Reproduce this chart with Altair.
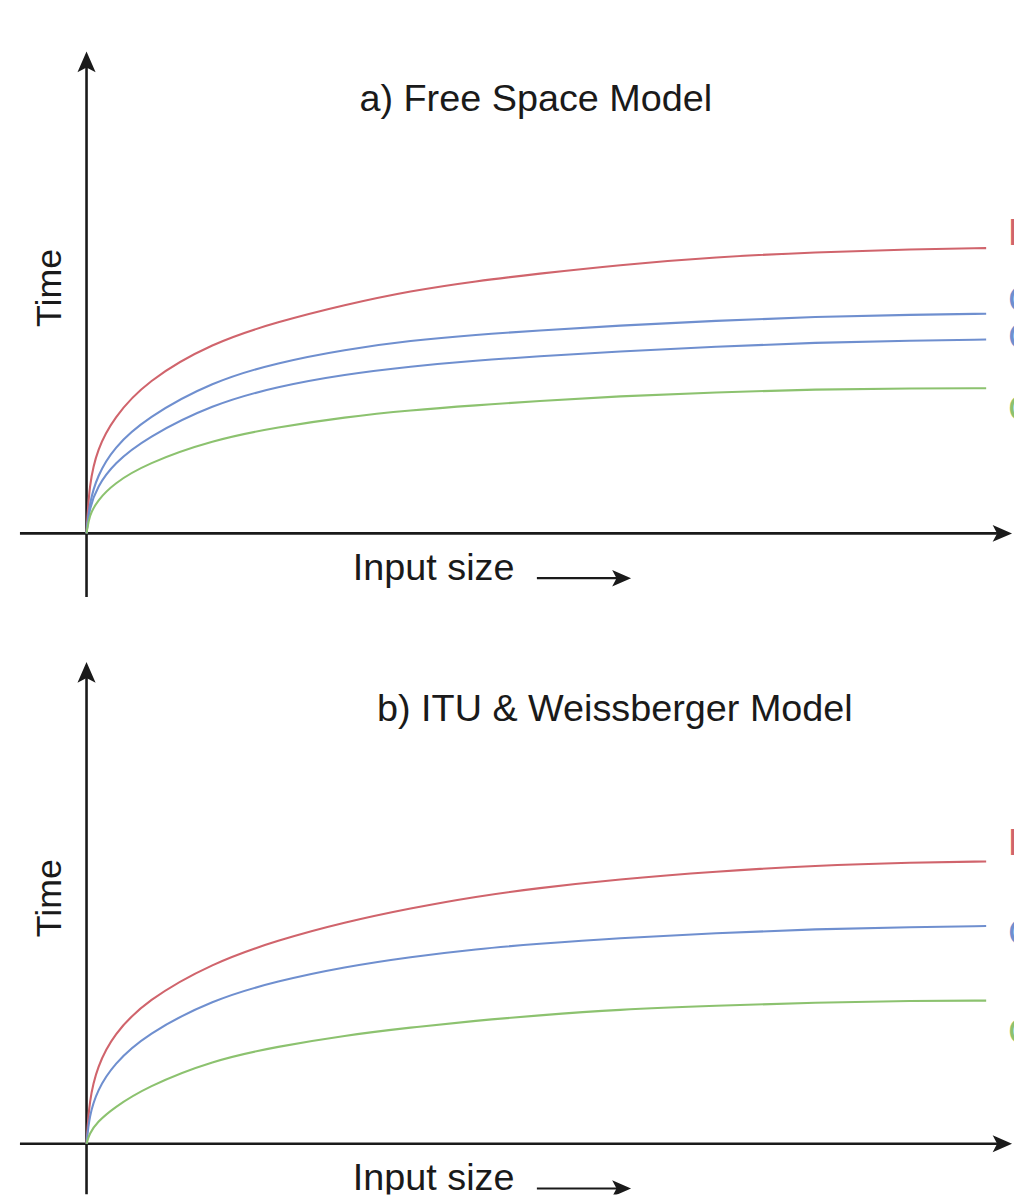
import altair as alt
import pandas as pd

# ---------------- data ----------------
x_pts = [0, 0.003, 0.012, 0.03, 0.066, 0.14, 0.213, 0.287, 0.36, 0.434, 0.5, 0.59, 0.7, 0.81, 0.92, 1.0]

# a) Free Space Model
a_red   = [0, 50, 85, 116, 153, 192, 213, 230, 244, 254, 261, 270, 278, 283, 286, 287]
a_blue1 = [0, 30, 58, 86, 116, 153, 172, 185, 194, 200, 204, 209, 214, 218, 220, 221]
a_blue2 = [0, 25, 47, 70, 96, 130, 148, 160, 168, 174, 178, 183, 188, 192, 194, 195]
a_green = [0, 18, 33, 50, 70, 94, 107, 117, 124, 129, 133, 138, 142, 145, 146, 146]

# b) ITU & Weissberger Model
b_red   = [0, 44, 78, 110, 144, 182, 205, 223, 237, 249, 257, 266, 274, 280, 283, 284]
b_blue  = [0, 28, 54, 80, 110, 145, 164, 178, 188, 196, 201, 207, 212, 216, 218, 219]
b_green = [0, 10, 22, 36, 57, 84, 98, 109, 117, 124, 129, 135, 139, 142, 144, 144]

a_series = ["Edge", "Cloud", "Cloudlet", "Gateway"]
a_values = [a_red, a_blue1, a_blue2, a_green]
a_colors = ["#d0646c", "#6f8fcf", "#6f8fcf", "#8cc26f"]
a_label_y = [290, 223, 186, 113]

b_series = ["Edge", "Cloud", "Gateway"]
b_values = [b_red, b_blue, b_green]
b_colors = ["#d0646c", "#6f8fcf", "#8cc26f"]
b_label_y = [290, 200, 100]

titles = ["a) Free Space Model", "b) ITU & Weissberger Model"]
title_x = [0.4994, 0.5873]
title_y = 425
ylabel = "Time"
xlabel = "Input size"

FONT = "Liberation Sans"
FS = 38
INK = "#1a1a1a"
W = 1012
X_DOM = [-0.08729, 1.03094]

ARROW_UP = "M0,-1L0.85,0.95L0,0.5L-0.85,0.95Z"
ARROW_RIGHT = "M1,0L-0.95,-0.85L-0.5,0L-0.95,0.85Z"


def X(field="x"):
    return alt.X(f"{field}:Q", scale=alt.Scale(domain=X_DOM, nice=False, zero=False), axis=None)


def Y(dom, field="y"):
    return alt.Y(f"{field}:Q", scale=alt.Scale(domain=dom, nice=False, zero=False), axis=None)


def panel(idx, names, values, colors, label_y, height, ymin, ymax, yaxis_bottom):
    dom = [ymin, ymax]
    rows = []
    for n, vals in zip(names, values):
        for i, (xv, yv) in enumerate(zip(x_pts, vals)):
            rows.append({"x": xv, "y": yv, "s": n, "o": i})
    df = pd.DataFrame(rows)
    uniq = list(dict.fromkeys(names))
    cmap = {n: c for n, c in zip(names, colors)}
    cscale = alt.Scale(domain=uniq, range=[cmap[n] for n in uniq])

    lines = alt.Chart(df).mark_line(strokeWidth=2.1, interpolate="basis").encode(
        x=X(), y=Y(dom), color=alt.Color("s:N", scale=cscale, legend=None),
        detail="s:N", order="o:Q")

    # axes (drawn as rules + arrowheads)
    xaxis = alt.Chart(pd.DataFrame({"x": [-0.074], "x2": [1.012], "y": [0]})).mark_rule(
        color=INK, strokeWidth=2.6).encode(x=X(), x2="x2:Q", y=Y(dom))
    yaxis = alt.Chart(pd.DataFrame({"x": [0], "y": [yaxis_bottom], "y2": [470]})).mark_rule(
        color=INK, strokeWidth=2.6, clip=True).encode(x=X(), y=Y(dom), y2="y2:Q")
    head_up = alt.Chart(pd.DataFrame({"x": [0], "y": [474]})).mark_point(
        shape=ARROW_UP, filled=True, size=460, color=INK, opacity=1, strokeWidth=0).encode(
        x=X(), y=Y(dom))
    head_right = alt.Chart(pd.DataFrame({"x": [1.0177], "y": [0]})).mark_point(
        shape=ARROW_RIGHT, filled=True, size=400, color=INK, opacity=1, strokeWidth=0, clip=True).encode(
        x=X(), y=Y(dom))

    # x label with small arrow
    xl = alt.Chart(pd.DataFrame({"x": [0.296], "y": [-47], "t": [xlabel]})).mark_text(
        font=FONT, fontSize=FS, align="left", baseline="alphabetic", color=INK, clip=True).encode(
        x=X(), y=Y(dom), text="t:N")
    xl_line = alt.Chart(pd.DataFrame({"x": [0.5006], "x2": [0.592], "y": [-45]})).mark_rule(
        color=INK, strokeWidth=2.2, clip=True).encode(x=X(), x2="x2:Q", y=Y(dom))
    xl_head = alt.Chart(pd.DataFrame({"x": [0.5945], "y": [-45]})).mark_point(
        shape=ARROW_RIGHT, filled=True, size=380, color=INK, opacity=1, strokeWidth=0, clip=True).encode(
        x=X(), y=Y(dom))

    yl = alt.Chart(pd.DataFrame({"x": [-0.0409], "y": [247], "t": [ylabel]})).mark_text(
        font=FONT, fontSize=FS - 2, angle=270, align="center", baseline="middle", color=INK).encode(
        x=X(), y=Y(dom), text="t:N")

    tt = alt.Chart(pd.DataFrame({"x": [title_x[idx]], "y": [title_y], "t": [titles[idx]]})).mark_text(
        font=FONT, fontSize=FS, align="center", baseline="alphabetic", color=INK).encode(
        x=X(), y=Y(dom), text="t:N")

    lab = alt.Chart(pd.DataFrame({"x": [1.0243] * len(names), "y": label_y, "t": names})).mark_text(
        font=FONT, fontSize=FS, align="left", baseline="alphabetic", clip=True).encode(
        x=X(), y=Y(dom), text="t:N", color=alt.Color("t:N", scale=cscale, legend=None))

    return alt.layer(xaxis, yaxis, head_up, head_right, lines, xl, xl_line, xl_head, yl, tt, lab).properties(
        width=W, height=height)


top = panel(0, a_series, a_values, a_colors, a_label_y, 624, -99, 525, -64)
bottom = panel(1, b_series, b_values, b_colors, b_label_y, 566, -51, 515, -51)

chart = alt.vconcat(top, bottom, spacing=0).properties(padding=0).configure_view(stroke=None)

chart.save("out.html", embed_options={"renderer": "svg", "actions": False})
